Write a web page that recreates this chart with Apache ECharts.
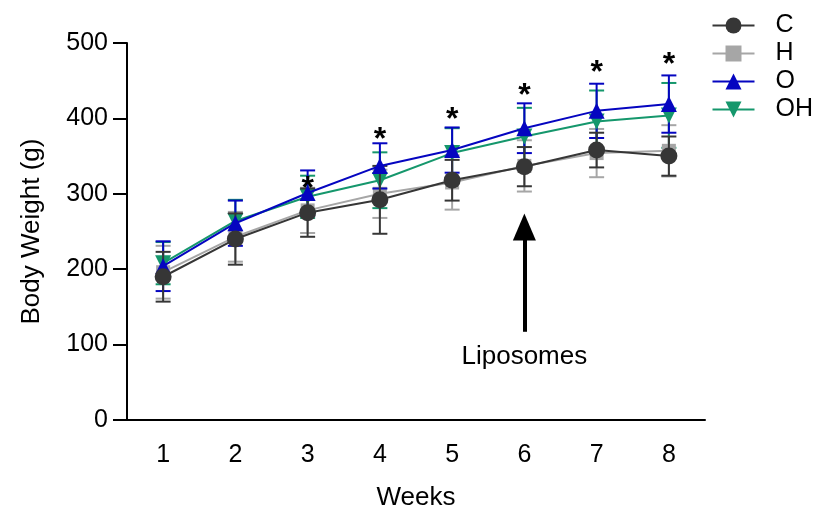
<!DOCTYPE html>
<html><head><meta charset="utf-8">
<script src="https://cdn.jsdelivr.net/npm/echarts@6/dist/echarts.min.js"></script>
<style>html,body{margin:0;padding:0;background:#fff}#c{width:815px;height:516px}</style>
</head><body><div id="c"></div>
<script>
const weeks = ['1','2','3','4','5','6','7','8'];
const yTicks = [0,100,200,300,400,500];
const cMean  = [190,240,275,292,318,336,358,350];
const cSd    = [33,34,32,45,27,26,23,26];
const hMean  = [196,243,278,300,315,337,354,357];
const hSd    = [35,33,30,32,36,34,32,34];
const oMean  = [204,261,301,337,358,387,410,419];
const oSd    = [33,30,30,30,30,33,36,38];
const ohMean = [208,264,296,318,354,376,396,404];
const ohSd   = [28,28,28,37,33,38,41,43];
const starWeeks = ['3','4','5','6','7','8'];
const starY = [306,371,398,430,460,471];
const arrowWeek = '6';
const arrowFrom = 117, arrowTo = 256;
const arrowLabel = 'Liposomes';
const arrowLabelY = 84;

const FONT = 'Liberation Sans, Arial, sans-serif';
const groups = [
  {name:'H', mean:hMean, sd:hSd, color:'#a6a6a6', symbol:'rect', size:14, z:2},
  {name:'OH', mean:ohMean, sd:ohSd, color:'#15976c', symbol:'path://M0,0 L10,0 L5,10 Z', size:16, z:3},
  {name:'O', mean:oMean, sd:oSd, color:'#0505c0', symbol:'triangle', size:16, z:4},
  {name:'C', mean:cMean, sd:cSd, color:'#363636', symbol:'circle', size:17, z:5}
];

function errSeries(g){
  return {
    type:'custom', name:g.name+'_err', z:g.z, silent:true,
    data: weeks.map((w,i)=>[i, g.mean[i]-g.sd[i], g.mean[i]+g.sd[i]]),
    encode:{x:0, y:[1,2]},
    renderItem(params, api){
      const x = api.value(0);
      const lo = api.coord([x, api.value(1)]);
      const hi = api.coord([x, api.value(2)]);
      const hw = 7.5;
      const st = {stroke:g.color, lineWidth:2};
      return {type:'group', children:[
        {type:'line', shape:{x1:lo[0],y1:lo[1],x2:hi[0],y2:hi[1]}, style:st},
        {type:'line', shape:{x1:lo[0]-hw,y1:lo[1],x2:lo[0]+hw,y2:lo[1]}, style:st},
        {type:'line', shape:{x1:hi[0]-hw,y1:hi[1],x2:hi[0]+hw,y2:hi[1]}, style:st}
      ]};
    }
  };
}
function lineSeries(g){
  return {
    type:'line', name:g.name, z:g.z+1, data:g.mean,
    symbol:g.symbol, symbolSize:g.size, showAllSymbol:true,
    itemStyle:{color:g.color, opacity:1}, lineStyle:{color:g.color, width:2},
    animation:false
  };
}

const series = [];
groups.forEach(g=>{ series.push(errSeries(g)); series.push(lineSeries(g)); });
series.push({
  type:'scatter', name:'stars', symbolSize:0, silent:true, z:10,
  itemStyle:{opacity:1},
  data: starWeeks.map((w,i)=>[w, starY[i]]),
  label:{show:true, position:'inside', formatter:'*', fontSize:32, fontWeight:'bold', fontFamily:FONT, color:'#000', opacity:1}
});
series.push({
  type:'scatter', name:'arrow', symbolSize:0, silent:true, z:10,
  itemStyle:{opacity:1},
  data:[[arrowWeek, arrowLabelY]],
  label:{show:true, position:'inside', formatter:arrowLabel, fontSize:26, fontFamily:FONT, color:'#000', opacity:1},
  markLine:{
    silent:true, symbol:['none','triangle'], symbolSize:[23,27],
    lineStyle:{color:'#000', width:4, type:'solid'},
    label:{show:false},
    data:[[{coord:[arrowWeek, arrowFrom]},{coord:[arrowWeek, arrowTo]}]]
  }
});

const chart = echarts.init(document.getElementById('c'), null, {renderer:'canvas'});
chart.setOption({
  animation:false,
  backgroundColor:'#fff',
  grid:{left:127, right:110, top:43, bottom:89},
  legend:{
    data:['C','H','O','OH'], orient:'vertical', right:-3, top:8,
    itemWidth:42, itemHeight:20, itemGap:3,
    textStyle:{fontSize:25, fontFamily:FONT, color:'#000', padding:[0,0,0,16]}
  },
  xAxis:{
    type:'category', data:weeks, boundaryGap:true,
    name:'Weeks', nameLocation:'middle', nameGap:65,
    nameTextStyle:{fontSize:26, fontFamily:FONT, color:'#000'},
    axisLine:{lineStyle:{color:'#000', width:2}},
    axisTick:{alignWithLabel:true, length:15, lineStyle:{color:'#000', width:2}},
    axisLabel:{fontSize:25, fontFamily:FONT, color:'#000', margin:23},
    splitLine:{show:false}
  },
  yAxis:{
    type:'value', min:yTicks[0], max:yTicks[yTicks.length-1], interval:100,
    name:'Body Weight (g)', nameLocation:'middle', nameGap:82,
    nameTextStyle:{fontSize:26, fontFamily:FONT, color:'#000'},
    axisLine:{show:true, lineStyle:{color:'#000', width:2}},
    axisTick:{show:true, length:14, lineStyle:{color:'#000', width:2}},
    axisLabel:{fontSize:25, fontFamily:FONT, color:'#000', margin:19},
    splitLine:{show:false}
  },
  series
});
</script></body></html>
